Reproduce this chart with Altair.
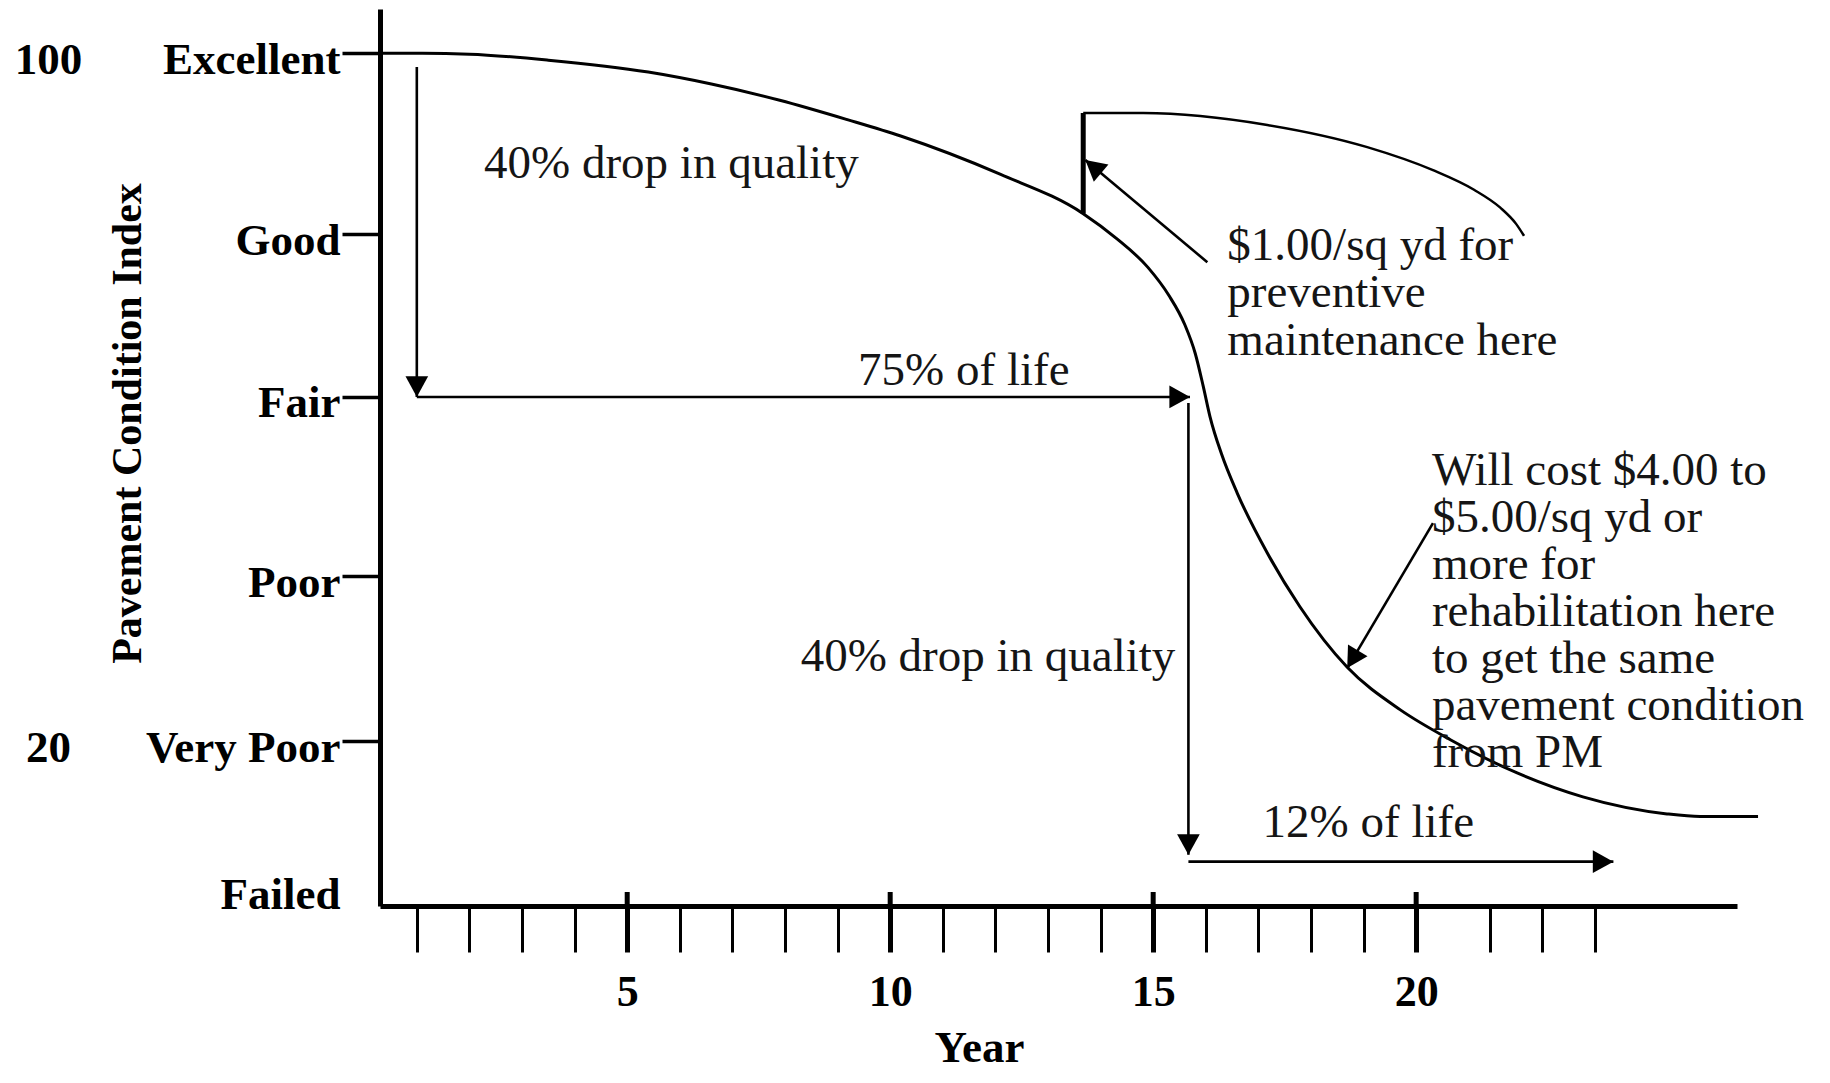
import math
import altair as alt
import pandas as pd

# ---------------- data ----------------
# main deterioration curve (year, pavement condition index)
curve_year = [0.30, 1.10, 2.00, 3.50, 5.40, 6.60, 7.90, 9.20, 10.20, 12.10, 13.67,
              14.30, 14.90, 15.30, 15.60, 15.80, 15.95, 16.08, 16.30, 16.60, 17.17,
              17.79, 18.69, 19.70, 20.65, 21.92, 23.17, 24.77, 25.40, 26.50]
curve_pci = [100.0, 100.0, 99.9, 99.2, 97.8, 96.4, 94.5, 92.2, 90.3, 85.8, 81.2,
             78.3, 74.9, 71.6, 68.2, 64.8, 61.0, 57.4, 53.0, 48.4, 41.4,
             35.1, 28.0, 23.0, 19.5, 15.6, 12.8, 10.8, 10.5, 10.5]

# curve after preventive maintenance
pm_year = [13.67, 14.81, 17.17, 19.07, 20.32, 21.10, 21.60, 21.90, 22.05]
pm_pci = [93.0, 93.0, 91.6, 89.0, 86.3, 84.0, 81.9, 80.0, 78.6]

# preventive maintenance jump
jump_year = [13.67]
jump_from = [81.2]
jump_to = [93.0]

# condition levels on the y axis
level_names = ["Failed", "Very Poor", "Poor", "Fair", "Good", "Excellent"]
level_values = [0, 19.3, 38.7, 59.7, 78.8, 100]
score_names = ["20", "100"]
score_values = [19.3, 100]

# year ticks
year_ticks = list(range(1, 21)) + [21.4, 22.4, 23.4]
major_years = [5, 10, 15, 20]
major_bottom = 0.0
major_top = 1.64

# arrows (start -> tip)
arrow_x0 = [1.00, 1.00, 15.67, 15.67, 16.03, 20.32]
arrow_y0 = [98.4, 59.7, 59.0, 5.2, 75.5, 44.9]
arrow_x1 = [1.00, 15.70, 15.67, 23.75, 13.71, 18.69]
arrow_y1 = [59.7, 59.7, 6.0, 5.2, 87.5, 27.9]

# single-line annotations
label_text = ["40% drop in quality", "75% of life", "40% drop in quality", "12% of life"]
label_year = [5.84, 11.40, 11.86, 19.09]
label_pci = [85.4, 61.1, 27.6, 8.1]

# multi-line notes (one row per line)
pm_note = ["$1.00/sq yd for", "preventive", "maintenance here"]
pm_note_year = [16.41, 16.41, 16.41]
pm_note_pci = [75.8, 70.2, 64.6]
rehab_note = ["Will cost $4.00 to", "$5.00/sq yd or", "more for", "rehabilitation here",
              "to get the same", "pavement condition", "from PM"]
rehab_note_year = [20.30] * 7
rehab_note_pci = [49.4, 43.9, 38.3, 32.8, 27.3, 21.8, 16.3]

# ---------------- layout ----------------
W, H = 1357, 897
X_DOM = [0.30, 26.10]
Y_DOM = [0.0, 105.2]
FONT = "Liberation Serif"
INK = "#000000"
TXT = "#151515"

kx = W / (X_DOM[1] - X_DOM[0])
ky = H / (Y_DOM[1] - Y_DOM[0])

xs = alt.Scale(domain=X_DOM, nice=False, zero=False)
ys = alt.Scale(domain=Y_DOM, nice=False, zero=False)

curve_df = pd.DataFrame({"year": curve_year, "pci": curve_pci})
pm_df = pd.DataFrame({"year": pm_year, "pci": pm_pci})
jump_df = pd.DataFrame({"year": jump_year, "p0": jump_from, "p1": jump_to})
arrows = pd.DataFrame({"x0": arrow_x0, "y0": arrow_y0, "x1": arrow_x1, "y1": arrow_y1})
arrows["angle"] = [
    math.degrees(math.atan2((b - a) * kx, (d - c) * ky)) % 360
    for a, b, c, d in zip(arrow_x0, arrow_x1, arrow_y0, arrow_y1)
]
labels_df = pd.DataFrame({"t": label_text, "year": label_year, "pci": label_pci})
notes_df = pd.DataFrame({
    "t": pm_note + rehab_note,
    "year": pm_note_year + rehab_note_year,
    "pci": pm_note_pci + rehab_note_pci,
})
score_df = pd.DataFrame({"v": score_values, "x": [X_DOM[0]] * len(score_values)})
major_df = pd.DataFrame({
    "year": major_years,
    "bottom": [major_bottom] * len(major_years),
    "top": [major_top] * len(major_years),
})

level_expr = " : ".join(
    f"datum.value == {v} ? '{n}'" for v, n in zip(level_values, level_names)
) + " : ''"
score_expr = " : ".join(
    f"datum.value == {v} ? '{n}'" for v, n in zip(score_values, score_names)
) + " : ''"

x_axis = alt.Axis(
    values=year_ticks, title="Year", grid=False, orient="bottom",
    labelExpr="datum.value % 5 === 0 ? datum.label : ''",
    tickSize=46, tickColor=INK,
    tickWidth={"condition": {"test": "datum.value % 5 === 0", "value": 5}, "value": 3},
    domainColor=INK, domainWidth=5,
    labelFont=FONT, labelFontSize=44, labelFontWeight="bold", labelColor=INK,
    labelPadding=18, labelBaseline="top", labelFlush=False, labelOverlap=False,
    labelLimit=400,
    titleFont=FONT, titleFontSize=45, titleFontWeight="bold", titleColor=INK,
    titleX=599, titleY=155, titleAlign="center", titleBaseline="alphabetic",
)
y_axis = alt.Axis(
    values=level_values, title="Pavement Condition Index", grid=False, orient="left",
    labelExpr=level_expr,
    tickSize=38, tickWidth=3.5, tickColor=INK,
    tickOpacity={"condition": {"test": "datum.value == 0", "value": 0}, "value": 1},
    domainColor=INK, domainWidth=5,
    labelFont=FONT, labelFontSize=45, labelFontWeight="bold", labelColor=INK,
    labelPadding=2, labelAlign="right", labelBaseline="alphabetic",
    labelOffset={"condition": {"test": "datum.value == 0", "value": 2}, "value": 20},
    labelFlush=False, labelOverlap=False, labelLimit=400,
    titleFont=FONT, titleFontSize=42, titleFontWeight="bold", titleColor=INK,
    titleAngle=270, titleX=-253, titleY=414, titleAlign="center", titleBaseline="middle",
)
score_axis = alt.Axis(
    values=score_values, title="", orient="left", grid=False, domain=False,
    ticks=False, tickSize=0, labelExpr=score_expr,
    labelFont=FONT, labelFontSize=45, labelFontWeight="bold", labelColor=INK,
    labelPadding=332, labelAlign="center", labelBaseline="alphabetic", labelOffset=20,
    labelFlush=False, labelOverlap=False, labelLimit=400,
)

curve = alt.Chart(curve_df).mark_line(
    interpolate="monotone", color=INK, strokeWidth=3
).encode(
    x=alt.X("year:Q", scale=xs, axis=x_axis),
    y=alt.Y("pci:Q", scale=ys, axis=y_axis),
)

scores = alt.Chart(score_df).mark_point(opacity=0, size=1).encode(
    x=alt.X("x:Q", scale=xs, axis=None),
    y=alt.Y("v:Q", scale=ys, axis=score_axis),
)

pm_line = alt.Chart(pm_df).mark_line(
    interpolate="monotone", color=INK, strokeWidth=2.5
).encode(
    x=alt.X("year:Q", scale=xs, axis=None),
    y=alt.Y("pci:Q", scale=ys, axis=None),
)

jump = alt.Chart(jump_df).mark_rule(color=INK, strokeWidth=5).encode(
    x=alt.X("year:Q", scale=xs, axis=None),
    y=alt.Y("p0:Q", scale=ys, axis=None),
    y2="p1:Q",
)

major = alt.Chart(major_df).mark_rule(color=INK, strokeWidth=5).encode(
    x=alt.X("year:Q", scale=xs, axis=None),
    y=alt.Y("bottom:Q", scale=ys, axis=None),
    y2="top:Q",
)

arrow_lines = alt.Chart(arrows).mark_rule(color=INK, strokeWidth=2.6).encode(
    x=alt.X("x0:Q", scale=xs, axis=None),
    y=alt.Y("y0:Q", scale=ys, axis=None),
    x2="x1:Q",
    y2="y1:Q",
)

arrow_heads = alt.Chart(arrows).mark_point(
    shape="M0,0L-0.55,1L0.55,1Z", filled=True, color=INK, opacity=1,
    strokeWidth=0, size=1700,
).encode(
    x=alt.X("x1:Q", scale=xs, axis=None),
    y=alt.Y("y1:Q", scale=ys, axis=None),
    angle=alt.Angle("angle:Q", scale=None),
)

labels = alt.Chart(labels_df).mark_text(
    font=FONT, fontSize=47, color=TXT, align="center", baseline="alphabetic"
).encode(
    x=alt.X("year:Q", scale=xs, axis=None),
    y=alt.Y("pci:Q", scale=ys, axis=None),
    text="t:N",
)

notes = alt.Chart(notes_df).mark_text(
    font=FONT, fontSize=47, color=TXT, align="left", baseline="alphabetic"
).encode(
    x=alt.X("year:Q", scale=xs, axis=None),
    y=alt.Y("pci:Q", scale=ys, axis=None),
    text="t:N",
)

chart = alt.layer(
    curve, scores, pm_line, jump, major, arrow_lines, arrow_heads, labels, notes
).resolve_axis(
    x="independent", y="independent"
).properties(
    width=W, height=H,
    padding={"left": 372, "top": 1, "right": 80, "bottom": 166},
    autosize=alt.AutoSizeParams(type="none"),
    background="white",
).configure_view(strokeWidth=0)

chart.save("out.html", embed_options={"renderer": "svg", "actions": False})
